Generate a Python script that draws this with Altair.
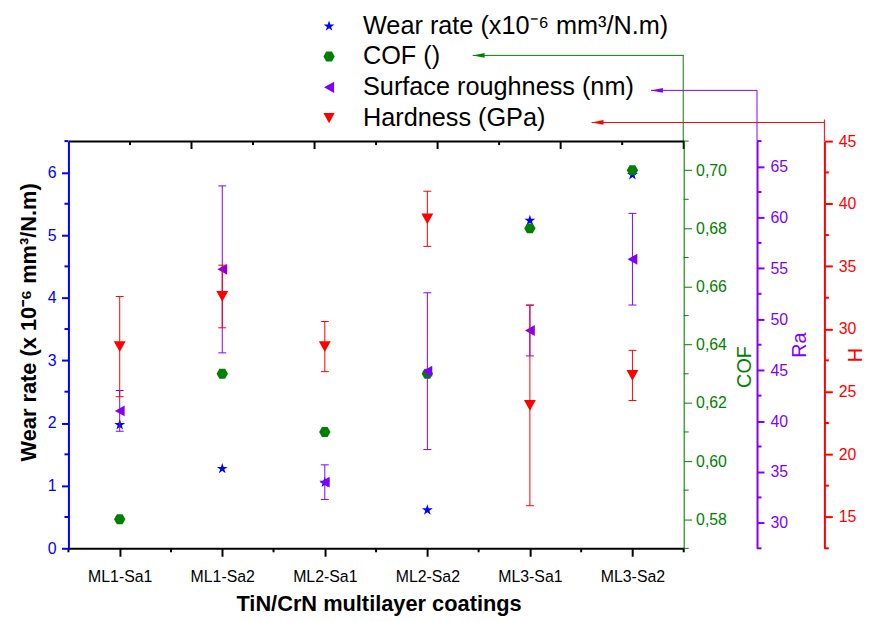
import json
import altair as alt
import pandas as pd

# ---------------- data ----------------
categories = ["ML1-Sa1", "ML1-Sa2", "ML2-Sa1", "ML2-Sa2", "ML3-Sa1", "ML3-Sa2"]
wear_rate = [1.98, 1.28, 1.06, 0.62, 5.24, 5.97]
cof_values = [0.580, 0.630, 0.610, 0.630, 0.680, 0.700]
roughness = [41.0, 54.9, 34.0, 44.9, 48.9, 55.9]
roughness_err = [2.0, 8.2, 1.7, 7.7, 2.5, 4.5]
hardness = [28.6, 32.6, 28.6, 38.8, 23.9, 26.3]
hardness_err = [4.0, 2.5, 2.0, 2.2, 8.0, 2.0]

series_labels = ["Wear rate (x10\u207b\u2076 mm\u00b3/N.m)", "COF ()",
                 "Surface roughness (nm)", "Hardness (GPa)"]
series_colors = ["#0000FF", "#008000", "#8000FF", "#FF0000"]

# axis tick positions
wear_major = [0, 1, 2, 3, 4, 5, 6]
wear_minor = [0.5, 1.5, 2.5, 3.5, 4.5, 5.5, 6.5]
x_major = [1, 2, 3, 4, 5, 6]
x_minor = [0.5, 1.5, 2.5, 3.5, 4.5, 5.5, 6.5]
top_major = [1.7, 2.9, 4.1, 5.3, 6.5]
top_minor = [1.1, 2.3, 3.5, 4.7, 5.9]
cof_major = [0.58, 0.60, 0.62, 0.64, 0.66, 0.68, 0.70]
cof_minor = [0.57, 0.59, 0.61, 0.63, 0.65, 0.67, 0.69, 0.71]
ra_major = [30, 35, 40, 45, 50, 55, 60, 65]
ra_minor = [27.5, 32.5, 37.5, 42.5, 47.5, 52.5, 57.5, 62.5, 67.5]
h_major = [15, 20, 25, 30, 35, 40, 45]
h_minor = [12.5, 17.5, 22.5, 27.5, 32.5, 37.5, 42.5]

STAR = ("M0,-0.905L0.225,-0.214L0.951,-0.214L0.363,0.213L0.588,0.904L0,0.477"
        "L-0.588,0.904L-0.363,0.213L-0.951,-0.214L-0.225,-0.214Z")
HEX = "M1,0L0.5,0.866L-0.5,0.866L-1,0L-0.5,-0.866L0.5,-0.866Z"
TRI_LEFT = "M-0.9,0L0.9,-1L0.9,1Z"
TRI_DOWN = "M-1,-0.9L1,-0.9L0,0.9Z"
ARROW = "M-1,0L1,-0.4L1,0.4Z"
series_shapes = [STAR, HEX, TRI_LEFT, TRI_DOWN]

BLUE, GREEN, PURPLE, RED = series_colors
FONT = "Liberation Sans"
W, H = 621, 411

df = pd.DataFrame({
    "idx": list(range(1, len(categories) + 1)),
    "cat": categories,
    "wear": wear_rate,
    "cof": cof_values,
    "ra": roughness,
    "ra_err": roughness_err,
    "h": hardness,
    "h_err": hardness_err,
})
df["ra_lo"] = df["ra"] - df["ra_err"]
df["ra_hi"] = df["ra"] + df["ra_err"]
df["h_lo"] = df["h"] - df["h_err"]
df["h_hi"] = df["h"] + df["h_err"]

base = alt.Chart(df)

legend = alt.Legend(title=None, orient="none", legendX=250.3, legendY=-129.25,
                    labelFont=FONT, labelFontSize=25.5, labelColor="black",
                    labelOffset=21.5, labelLimit=0, symbolSize=130,
                    symbolStrokeWidth=0, symbolOpacity=1, rowPadding=4.1,
                    padding=0)
color_scale = alt.Scale(domain=series_labels, range=series_colors)
shape_scale = alt.Scale(domain=series_labels, range=series_shapes)


def series_enc():
    return dict(color=alt.Color("series:N", scale=color_scale, legend=legend),
                shape=alt.Shape("series:N", scale=shape_scale, legend=legend))


def lbl(i):
    return json.dumps(series_labels[i], ensure_ascii=False)


def xscale():
    return alt.Scale(domain=[0.5, 6.5], nice=False, zero=False)


def xenc(axis=None, field="idx"):
    return alt.X(f"{field}:Q", scale=xscale(), axis=axis)


def wear_scale():
    return alt.Scale(domain=[0, 6.5], nice=False, zero=False)


def cof_scale():
    return alt.Scale(domain=[0.57, 0.71], nice=False, zero=False)


def ra_scale():
    return alt.Scale(domain=[27.5, 67.5], nice=False, zero=False)


def h_scale():
    return alt.Scale(domain=[12.5, 45], nice=False, zero=False)


cat_expr = json.dumps(categories)
common = dict(labelFont=FONT, titleFont=FONT, grid=False, labelFlush=False,
              labelOverlap=False, zindex=1)

x_bottom_axis = alt.Axis(
    orient="bottom", values=x_major,
    labelExpr=f"{cat_expr}[datum.value - 1]",
    tickSize=8, tickWidth=2, domainWidth=2, domainColor="black", tickColor="black",
    labelColor="black", labelFontSize=16, labelPadding=12.5,
    title="TiN/CrN multilayer coatings", titleFontSize=22, titleFontWeight="bold",
    titleColor="black", titleX=313, titleY=62.5, titleBaseline="alphabetic", **common)

x_top_axis = alt.Axis(
    orient="bottom", offset=-H, values=top_major, labels=False, ticks=False,
    domainWidth=2, domainColor="black", grid=False, title=None, zindex=1)

wear_axis = alt.Axis(
    orient="left", values=wear_major, format="d",
    tickSize=7, tickWidth=2, domainWidth=2, domainColor=BLUE, tickColor=BLUE,
    labelColor=BLUE, labelFontSize=16, labelPadding=5.5,
    title="Wear rate (x 10\u207b\u2076 mm\u00b3/N.m)", titleFontSize=22,
    titleFontWeight="bold", titleColor="black", titleAngle=270,
    titleX=-33, titleY=182.5, titleBaseline="alphabetic", **common)

cof_axis = alt.Axis(
    orient="right", values=cof_major,
    labelExpr="replace(format(datum.value, '.2f'), '.', ',')",
    tickSize=8, tickWidth=1, domainWidth=1, domainColor=GREEN, tickColor=GREEN,
    labelColor=GREEN, labelFontSize=16, labelPadding=4,
    title="COF", titleFontSize=20, titleFontWeight="normal", titleColor=GREEN,
    titleAngle=270, titleX=67, titleY=227.5, titleBaseline="alphabetic", **common)

ra_axis = alt.Axis(
    orient="right", offset=74, values=ra_major, format="d",
    tickSize=7, tickWidth=2, domainWidth=2, domainColor=PURPLE, tickColor=PURPLE,
    labelColor=PURPLE, labelFontSize=16, labelPadding=6,
    title="Ra", titleFontSize=20, titleFontWeight="normal", titleColor=PURPLE,
    titleAngle=270, titleX=48.5, titleY=205.5, titleBaseline="alphabetic", **common)

h_axis = alt.Axis(
    orient="right", offset=142, values=h_major, format="d",
    tickSize=8, tickWidth=2, domainWidth=2, domainColor=RED, tickColor=RED,
    labelColor=RED, labelFontSize=16, labelPadding=6,
    title="H", titleFontSize=20, titleFontWeight="normal", titleColor=RED,
    titleAngle=270, titleX=37, titleY=215.5, titleBaseline="alphabetic", **common)

# ---- data layers ----
wear_layer = base.transform_calculate(series=lbl(0)).mark_point(
    filled=True, opacity=1, size=134, strokeWidth=0).encode(
    x=xenc(x_bottom_axis), y=alt.Y("wear:Q", scale=wear_scale(), axis=wear_axis),
    **series_enc())

cof_layer = base.transform_calculate(series=lbl(1)).mark_point(
    filled=True, opacity=1, size=132, strokeWidth=0).encode(
    x=xenc(x_top_axis), y=alt.Y("cof:Q", scale=cof_scale(), axis=cof_axis),
    **series_enc())

ra_rule = base.mark_rule(color=PURPLE, strokeWidth=1).encode(
    x=xenc(), y=alt.Y("ra_lo:Q", scale=ra_scale(), axis=None), y2="ra_hi:Q")
ra_caps = base.transform_fold(["ra_lo", "ra_hi"], as_=["k", "v"]).mark_tick(
    orient="horizontal", color=PURPLE, size=8, thickness=1, opacity=1).encode(
    x=xenc(), y=alt.Y("v:Q", scale=ra_scale(), axis=None))
ra_layer = base.transform_calculate(series=lbl(2)).mark_point(
    filled=True, opacity=1, size=121, strokeWidth=0).encode(
    x=xenc(), y=alt.Y("ra:Q", scale=ra_scale(), axis=ra_axis), **series_enc())

h_rule = base.mark_rule(color=RED, strokeWidth=1).encode(
    x=xenc(), y=alt.Y("h_lo:Q", scale=h_scale(), axis=None), y2="h_hi:Q")
h_caps = base.transform_fold(["h_lo", "h_hi"], as_=["k", "v"]).mark_tick(
    orient="horizontal", color=RED, size=8, thickness=1, opacity=1).encode(
    x=xenc(), y=alt.Y("v:Q", scale=h_scale(), axis=None))
h_layer = base.transform_calculate(series=lbl(3)).mark_point(
    filled=True, opacity=1, size=144, strokeWidth=0).encode(
    x=xenc(), y=alt.Y("h:Q", scale=h_scale(), axis=h_axis), **series_enc())


# ---- extra tick marks (minor ticks and the inward ticks of the top frame) ----
def xticks(values, size, y_center, color="black", width=2):
    return alt.Chart(pd.DataFrame({"v": values})).mark_tick(
        orient="vertical", size=size, thickness=width, color=color, opacity=1).encode(
        x=alt.X("v:Q", scale=xscale(), axis=None), y=alt.value(y_center))


def yticks(values, scale, size, x_center, color, width=2):
    return alt.Chart(pd.DataFrame({"v": values})).mark_tick(
        orient="horizontal", size=size, thickness=width, color=color, opacity=1).encode(
        y=alt.Y("v:Q", scale=scale, axis=None), x=alt.value(x_center))


tick_layers = [
    xticks(top_major, 8, 4),
    xticks(top_minor, 4, 2),
    xticks(x_minor, 4, H + 2),
    yticks(wear_minor, wear_scale(), 4, -2, BLUE),
    yticks(cof_minor, cof_scale(), 5, W + 2.5, GREEN, width=1),
    yticks(ra_minor, ra_scale(), 4.5, W + 74 + 2.25, PURPLE),
    yticks(h_minor, h_scale(), 4.5, W + 142 + 2.25, RED),
]

# ---- connector lines from legend entries to their axes (annotation) ----
one = alt.Data(values=[{"a": 1}])


def hline(x1, x2, y, color):
    return alt.Chart(one).mark_rule(color=color, strokeWidth=1).encode(
        x=alt.value(x1), x2=alt.value(x2), y=alt.value(y))


def vline(x, y1, y2, color):
    return alt.Chart(one).mark_rule(color=color, strokeWidth=1).encode(
        x=alt.value(x), y=alt.value(y1), y2=alt.value(y2))


def arrow(x, y, color):
    return alt.Chart(one).mark_point(shape=ARROW, filled=True, size=144, opacity=1,
                                     color=color, strokeWidth=0).encode(
        x=alt.value(x), y=alt.value(y))


decor = [
    hline(408, W, -86.5, GREEN), vline(W - 0.5, -86.5, 0, GREEN), arrow(414, -86.5, GREEN),
    hline(588, W + 74, -51.2, PURPLE), vline(W + 74, -51.2, 0, PURPLE), arrow(594, -51.2, PURPLE),
    hline(528, W + 142, -18.8, RED), vline(W + 142, -21.8, 0, RED), arrow(534, -18.8, RED),
]

chart = alt.layer(
    wear_layer, cof_layer, ra_rule, ra_caps, ra_layer, h_rule, h_caps, h_layer,
    *tick_layers, *decor
).resolve_scale(
    x="independent", y="independent"
).properties(
    width=W, height=H,
    padding={"left": 61, "top": 131.5, "right": 185, "bottom": 68},
    autosize=alt.AutoSizeParams(type="none"),
).configure_view(stroke=None).configure(font=FONT)

chart.save("out.html", embed_options={"renderer": "svg", "actions": False})
